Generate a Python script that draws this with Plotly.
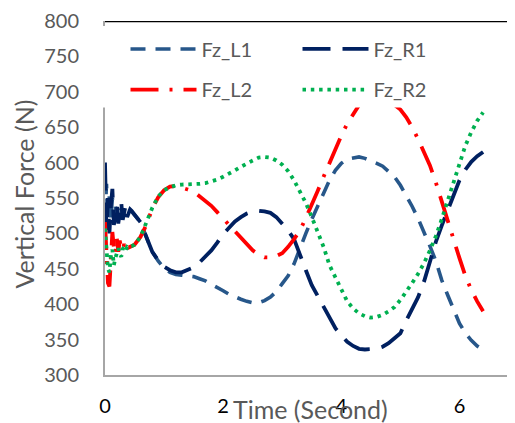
import plotly.graph_objects as go

time_s = [0.000, 0.025, 0.050, 0.075, 0.100, 0.125, 0.150, 0.175, 0.200, 0.225,
          0.250, 0.275, 0.300, 0.325, 0.350, 0.375, 0.400, 0.425, 0.450, 0.475, 0.500,
          0.6, 0.7, 0.8, 0.9, 1.0, 1.1, 1.2, 1.3, 1.4, 1.5,
          1.6, 1.7, 1.8, 1.9, 2.0, 2.1, 2.2, 2.3, 2.4, 2.5,
          2.6, 2.7, 2.8, 2.9, 3.0, 3.1, 3.2, 3.3, 3.4, 3.5,
          3.6, 3.7, 3.8, 3.9, 4.0, 4.1, 4.2, 4.3, 4.4, 4.5,
          4.6, 4.7, 4.8, 4.9, 5.0, 5.1, 5.2, 5.3, 5.4, 5.5,
          5.6, 5.7, 5.8, 5.9, 6.0, 6.1, 6.2, 6.3, 6.4]

fz_l1 = [520, 570, 505, 555, 520, 550, 520, 540, 525, 535, 528, 536, 525, 532, 534, 528, 531, 533, 531, 529, 526,
         516, 495, 474, 461, 451, 445, 442, 441, 440, 439,
         436, 433, 428, 424, 419, 414, 410, 407, 404, 402,
         402, 405, 410, 418, 429, 440, 457, 480, 500, 520,
         538, 558, 575, 589, 599, 605, 607, 608, 606, 603,
         599, 595, 588, 580, 568, 554, 538, 521, 503, 482,
         461, 434, 413, 392, 373, 359, 349, 341, 336]

fz_r1 = [600, 505, 550, 500, 540, 563, 512, 530, 542, 514, 535, 544, 519, 530, 540, 523, 530, 534, 532, 529, 526,
         516, 495, 474, 462, 453, 448, 445, 445, 448, 452,
         459, 467, 476, 487, 499, 508, 517, 523, 528, 531,
         532, 531, 529, 523, 514, 504, 492, 468, 448, 427,
         412, 395, 380, 366, 356, 347, 341, 337, 336, 336,
         337, 340, 345, 352, 359, 377, 393, 410, 432, 460,
         488, 511, 533, 553, 575, 590, 601, 609, 615]

fz_l2 = [516, 470, 430, 425, 455, 502, 480, 470, 493, 474, 490, 478, 476, 485, 478, 483, 480, 481, 482, 482, 484,
         495, 512, 535, 551, 561, 566, 567, 565, 562, 559,
         552, 546, 539, 530, 521, 512, 502, 493, 484, 476,
         470, 466, 466, 468, 472, 481, 492, 504, 522, 540,
         560, 580, 600, 620, 638, 655, 669, 681, 690, 695,
         696, 694, 688, 682, 675, 664, 650, 633, 615, 596,
         572, 545, 516, 490, 465, 440, 420, 404, 390]

fz_r2 = [507, 465, 450, 445, 470, 477, 455, 465, 472, 479, 470, 467, 478, 481, 476, 481, 480, 482, 482, 483, 484,
         495, 515, 536, 552, 561, 565, 568, 569, 569, 569,
         570, 571, 573, 576, 580, 584, 589, 594, 599, 603,
         607, 608, 607, 603, 597, 588, 575, 560, 543, 523,
         503, 481, 455, 438, 419, 404, 394, 387, 383, 381,
         382, 385, 390, 396, 406, 417, 430, 443, 458, 476,
         496, 520, 547, 572, 598, 624, 643, 659, 671]

x_ticks = [0, 2, 4, 6]
y_ticks = [300, 350, 400, 450, 500, 550, 600, 650, 700, 750, 800]

FONT = "Lato"
GRAY = "#595959"

fig = go.Figure()
series = [
    ("Fz_L1", fz_l1, "#27578A", "15px,10px", 3.6, "legend"),
    ("Fz_R1", fz_r1, "#002060", "28px,12px", 3.8, "legend"),
    ("Fz_L2", fz_l2, "#FF0000", "28px,11px,3px,11px", 3.8, "legend2"),
    ("Fz_R2", fz_r2, "#00B050", "3.5px,4.8px", 3.8, "legend2"),
]
for name, vals, color, dash, width, lg in series:
    fig.add_trace(go.Scatter(x=time_s, y=vals, mode="lines", name=name,
                             line=dict(color=color, width=width, dash=dash),
                             legend=lg))

leg_common = dict(orientation="h", xanchor="left", yanchor="middle",
                  bgcolor="rgba(0,0,0,0)", font=dict(family=FONT, size=20, color=GRAY),
                  itemwidth=66, entrywidth=91, entrywidthmode="pixels")
fig.update_layout(
    width=507, height=415,
    margin=dict(l=97, r=0, t=10, b=48),
    paper_bgcolor="white", plot_bgcolor="white",
    legend=dict(x=0.05, y=0.921, **leg_common),
    legend2=dict(x=0.05, y=0.806, **leg_common),
    xaxis=dict(range=[0, 6.94], tickvals=x_ticks, showgrid=False, zeroline=False,
               showline=True, linecolor="#A6A6A6", linewidth=2,
               tickfont=dict(family=FONT, size=20, color="black"),
               ticks="", ticklabelstandoff=12, ticklabeloverflow="allow"),
    yaxis=dict(range=[300, 800], tickvals=y_ticks, showgrid=False, zeroline=False,
               showline=True, linecolor="#A6A6A6", linewidth=2,
               tickfont=dict(family=FONT, size=20, color=GRAY),
               ticks="", ticklabelstandoff=20, ticklabeloverflow="allow"),
    shapes=[
        dict(type="rect", xref="paper", yref="y", x0=-0.012, x1=1, y0=678, y1=793,
             fillcolor="white", line=dict(width=0), layer="above"),
        dict(type="line", xref="paper", yref="y", x0=0, x1=1, y0=800, y1=800,
             line=dict(color="black", width=2.6), layer="above"),
    ],
    annotations=[
        dict(text="Time (Second)", xref="paper", yref="paper", x=0.502, y=-0.096,
             showarrow=False, font=dict(family=FONT, size=25, color=GRAY),
             xanchor="center", yanchor="middle"),
        dict(text="Vertical Force (N)", xref="paper", yref="paper", x=-0.198, y=0.512,
             textangle=-90, showarrow=False, font=dict(family=FONT, size=25, color=GRAY),
             xanchor="center", yanchor="middle"),
    ],
    showlegend=True,
)

fig.write_html("out.html")
